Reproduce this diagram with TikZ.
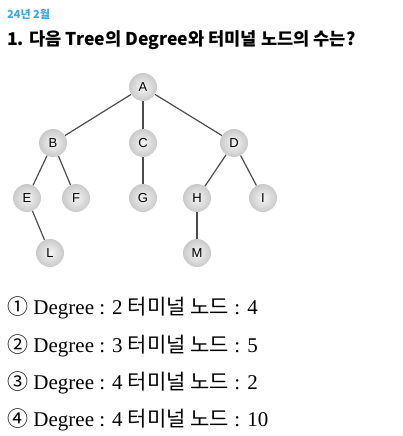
\documentclass[tikz,border=0pt]{standalone}
\usepackage{fontspec}
\setmainfont{Liberation Serif}
\setsansfont{Liberation Sans}
\newfontfamily\kr{Noto Sans CJK KR}
\definecolor{datecol}{RGB}{58,168,228}
\definecolor{edgecol}{RGB}{75,75,75}

\tikzset{
  vertex/.style = {circle, minimum size=28pt, inner sep=0pt,
    shading=radial, inner color=gray!8, outer color=gray!42,
    font=\sffamily\fontsize{13}{13}\selectfont},
  branch/.style = {draw=edgecol, line width=1.2pt},
  choice/.style = {anchor=west, inner sep=0pt,
    font=\fontsize{21}{22}\selectfont}
}

\begin{document}
\begin{tikzpicture}[x=1pt, y=1pt]
\useasboundingbox (0,0) rectangle (403,-436);
% heading
\node[anchor=west, inner sep=0pt, text=datecol, font=\kr\bfseries\fontsize{11}{11}\selectfont]
  (date) at (7,-14) {24년 2월};
\node[anchor=west, inner sep=0pt, font=\kr\bfseries\fontsize{17.6}{18}\selectfont]
  (title) at (7,-40) {1. 다음 Tree의 Degree와 터미널 노드의 수는?};
% tree
\node[vertex] (a) at (143,-87)  {A};
\node[vertex] (b) at (53,-143)  {B};
\node[vertex] (c) at (143,-143) {C};
\node[vertex] (d) at (234,-143) {D};
\node[vertex] (e) at (27,-198)  {E};
\node[vertex] (f) at (76,-198)  {F};
\node[vertex] (g) at (143,-198) {G};
\node[vertex] (h) at (197,-198) {H};
\node[vertex] (i) at (263,-198) {I};
\node[vertex] (l) at (50,-253)  {L};
\node[vertex] (m) at (197,-253) {M};
\foreach \u/\v in {a/b, a/c, a/d, b/e, b/f, c/g, d/h, d/i, e/l, h/m}
  \draw[branch] (\u) -- (\v);
% answers
\node[choice] (opt1) at (7,-308) {{\kr ①} Degree : 2 {\kr 터미널 노드} : 4};
\node[choice] (opt2) at (7,-346) {{\kr ②} Degree : 3 {\kr 터미널 노드} : 5};
\node[choice] (opt3) at (7,-383) {{\kr ③} Degree : 4 {\kr 터미널 노드} : 2};
\node[choice] (opt4) at (7,-420) {{\kr ④} Degree : 4 {\kr 터미널 노드} : 10};
\end{tikzpicture}
\end{document}
